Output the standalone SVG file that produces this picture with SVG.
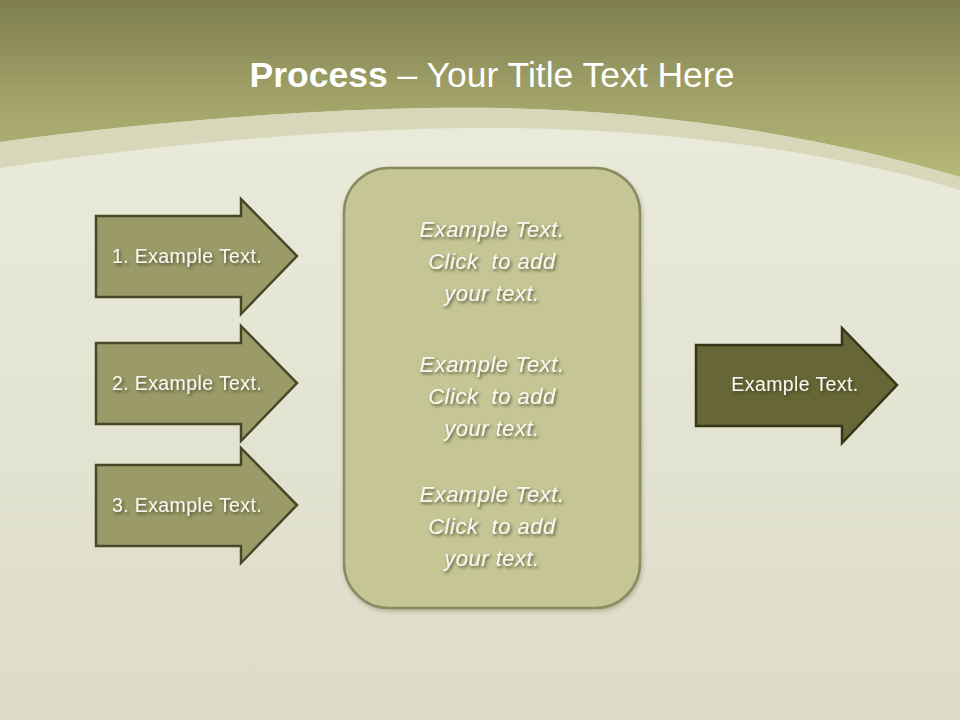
<svg xmlns="http://www.w3.org/2000/svg" width="960" height="720" viewBox="0 0 960 720">
<defs>
<linearGradient id="top" x1="0" y1="0" x2="0" y2="1">
<stop offset="0" stop-color="#7d7d4f"/>
<stop offset="0.5" stop-color="#9e9f66"/>
<stop offset="1" stop-color="#b5b877"/>
</linearGradient>
<linearGradient id="bg" x1="0" y1="0" x2="0" y2="1">
<stop offset="0" stop-color="#ededdf"/>
<stop offset="0.5" stop-color="#e4e5d3"/>
<stop offset="1" stop-color="#dcdcc8"/>
</linearGradient>
<filter id="ts" x="-20%" y="-30%" width="140%" height="170%">
<feDropShadow dx="1.5" dy="2" stdDeviation="1.5" flood-color="#3a3a20" flood-opacity="0.75"/>
</filter>
<filter id="ss" x="-10%" y="-10%" width="120%" height="120%">
<feDropShadow dx="1" dy="2" stdDeviation="2" flood-color="#555533" flood-opacity="0.35"/>
</filter>
</defs>
<style>
.lbl{font-family:"Liberation Sans","Noto Sans",sans-serif;font-size:19.5px;letter-spacing:0.4px;fill:#f8f8f0;text-anchor:middle}
.ctr{font-family:"Liberation Sans","Noto Sans",sans-serif;font-size:22px;letter-spacing:0.5px;font-style:italic;fill:#f8f8f0;text-anchor:middle;white-space:pre}
.arrL{fill:#9b9b69;stroke:#484828;stroke-width:2.5;stroke-linejoin:miter}
.arrR{fill:#666636;stroke:#363618;stroke-width:2.5}
</style>
<rect x="0" y="0" width="960" height="720" fill="url(#bg)"/>
<path d="M0 0 H960 V177 C820 135 650 110 500 108 C380 106 200 115 0 142 Z" fill="url(#top)"/>
<path d="M0 142 C200 115 380 106 500 108 C650 110 820 135 960 177 V190 C830 150 660 129 500 128 C380 127 200 138 0 168 Z" fill="#d3d4b4" opacity="0.85"/>
<text x="492" y="87" font-family="Liberation Sans, Noto Sans, sans-serif" font-size="35.5" fill="#ffffff" text-anchor="middle"><tspan font-weight="bold">Process</tspan> – Your Title Text Here</text>
<g id="node-center">
<rect x="344" y="168" width="296" height="440" rx="45" ry="45" fill="#c5c595" stroke="#8b8b62" stroke-width="2.5" filter="url(#ss)"/>
<g filter="url(#ts)">
<text class="ctr" x="492" y="237">Example Text.</text>
<text class="ctr" x="492" y="269" xml:space="preserve">Click  to add</text>
<text class="ctr" x="492" y="301">your text.</text>
<text class="ctr" x="492" y="372">Example Text.</text>
<text class="ctr" x="492" y="404" xml:space="preserve">Click  to add</text>
<text class="ctr" x="492" y="436">your text.</text>
<text class="ctr" x="492" y="502">Example Text.</text>
<text class="ctr" x="492" y="534" xml:space="preserve">Click  to add</text>
<text class="ctr" x="492" y="566">your text.</text>
</g>
</g>
<g id="node-1">
<path class="arrL" d="M96 216 H241 V199 L297 256 L241 314 V297 H96 Z"/>
<text class="lbl" x="187" y="263" filter="url(#ts)">1. Example Text.</text>
</g>
<g id="node-2">
<path class="arrL" d="M96 343 H241 V326 L297 383 L241 441 V424 H96 Z"/>
<text class="lbl" x="187" y="390" filter="url(#ts)">2. Example Text.</text>
</g>
<g id="node-3">
<path class="arrL" d="M96 465 H241 V448 L297 505 L241 563 V546 H96 Z"/>
<text class="lbl" x="187" y="512" filter="url(#ts)">3. Example Text.</text>
</g>
<g id="node-out">
<path class="arrR" d="M696 345 H842 V328 L897 385 L842 443 V426 H696 Z"/>
<text class="lbl" x="795" y="391" filter="url(#ts)">Example Text.</text>
</g>
<g id="connectors"></g>
</svg>
